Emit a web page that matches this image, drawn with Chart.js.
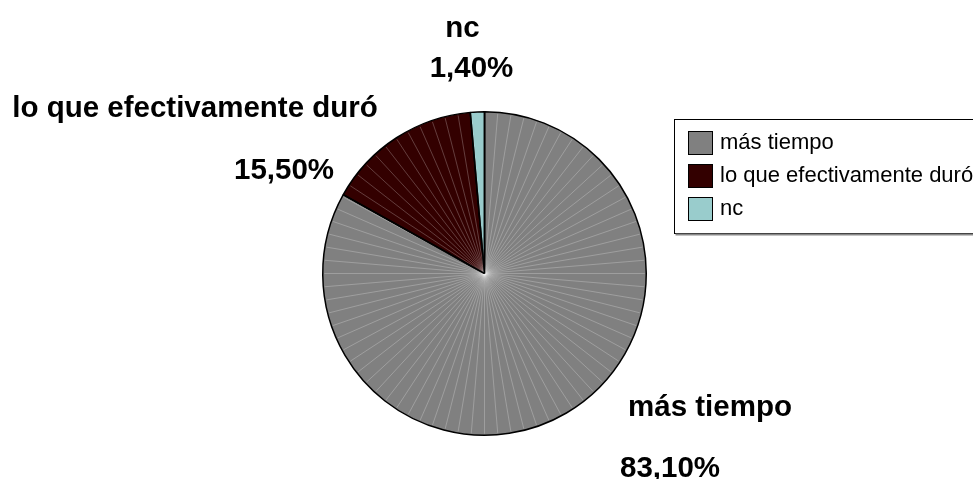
<!DOCTYPE html>
<html>
<head>
<meta charset="utf-8">
<script src="https://cdn.jsdelivr.net/npm/chart.js@4/dist/chart.umd.min.js"></script>
<style>
  html, body { margin: 0; padding: 0; background: #fff; }
  #wrap { width: 973px; height: 479px; position: relative; }
</style>
</head>
<body>
<div id="wrap"><canvas id="pie" width="973" height="479"></canvas></div>
<script>
// data
const categories = ['más tiempo', 'lo que efectivamente duró', 'nc'];
const percentages = [83.1, 15.5, 1.4];

// styling
const sliceColors = ['#808080', '#330000', '#99CCCC'];
const FONT = '"Liberation Sans", Arial, Helvetica, sans-serif';

// label spots relative to pie centre: [nameDx, nameBaseDy, valueDx, valueBaseDy]
const labelOffsets = [
  [225.5, 142.5, 185.5, 203.5],
  [-289.5, -156.5, -200.5, -94.5],
  [-22, -236.5, -13, -196.5]
];

function pct(v) {
  return v.toFixed(2).replace('.', ',') + '%';
}

// faint radial streaks like the original export
const streaks = {
  id: 'streaks',
  afterDatasetsDraw(chart) {
    const arc = chart.getDatasetMeta(0).data[0];
    if (!arc) return;
    const { x, y, outerRadius } = arc;
    const ctx = chart.ctx;
    ctx.save();
    ctx.strokeStyle = 'rgba(255,255,255,0.3)';
    ctx.lineWidth = 0.8;
    const n = 76;
    for (let i = 0; i < n; i++) {
      const a = -Math.PI / 2 + i * 2 * Math.PI / n;
      ctx.beginPath();
      ctx.moveTo(x, y);
      ctx.lineTo(x + Math.cos(a) * (outerRadius - 1.5), y + Math.sin(a) * (outerRadius - 1.5));
      ctx.stroke();
    }
    // redraw slice edges on top
    ctx.strokeStyle = '#000';
    ctx.lineWidth = 1.5;
    chart.getDatasetMeta(0).data.forEach(el => {
      ctx.beginPath();
      ctx.moveTo(x, y);
      ctx.lineTo(x + Math.cos(el.startAngle) * outerRadius, y + Math.sin(el.startAngle) * outerRadius);
      ctx.stroke();
    });
    ctx.restore();
  }
};

const sliceLabels = {
  id: 'sliceLabels',
  afterDraw(chart) {
    const meta = chart.getDatasetMeta(0);
    const { x, y } = meta.data[0];
    const ctx = chart.ctx;
    ctx.save();
    ctx.fillStyle = '#000';
    ctx.font = 'bold 29.5px ' + FONT;
    ctx.textAlign = 'center';
    ctx.textBaseline = 'alphabetic';
    categories.forEach((name, i) => {
      const o = labelOffsets[i];
      ctx.fillText(name, x + o[0], y + o[1]);
      ctx.fillText(pct(percentages[i]), x + o[2], y + o[3]);
    });
    ctx.restore();
  }
};

const boxLegend = {
  id: 'boxLegend',
  afterDraw(chart) {
    const ctx = chart.ctx;
    const left = 674.5, top = 119.5, bottom = 233.5;
    ctx.save();
    ctx.strokeStyle = '#000';
    ctx.lineWidth = 1;
    ctx.strokeRect(left, top, 320, bottom - top);
    ctx.strokeStyle = '#888';
    ctx.lineWidth = 2;
    ctx.beginPath();
    ctx.moveTo(left + 1, bottom + 1);
    ctx.lineTo(980, bottom + 1);
    ctx.stroke();
    ctx.font = '22px ' + FONT;
    ctx.textBaseline = 'middle';
    ctx.textAlign = 'left';
    categories.forEach((name, i) => {
      const sy = 131 + i * 33;
      ctx.fillStyle = sliceColors[i];
      ctx.fillRect(688, sy, 25, 24);
      ctx.strokeStyle = '#000';
      ctx.lineWidth = 1;
      ctx.strokeRect(688.5, sy + 0.5, 24, 23);
      ctx.fillStyle = '#000';
      ctx.fillText(name, 720, sy + 12);
    });
    ctx.restore();
  }
};

new Chart(document.getElementById('pie'), {
  type: 'pie',
  data: {
    labels: categories,
    datasets: [{
      data: percentages,
      backgroundColor: sliceColors,
      borderColor: '#000',
      borderWidth: 1.5
    }]
  },
  options: {
    responsive: false,
    animation: false,
    events: [],
    layout: { padding: { top: 111, bottom: 43, left: 0, right: 4 } },
    plugins: {
      legend: { display: false },
      tooltip: { enabled: false },
      title: { display: false }
    }
  },
  plugins: [streaks, sliceLabels, boxLegend]
});
</script>
</body>
</html>
